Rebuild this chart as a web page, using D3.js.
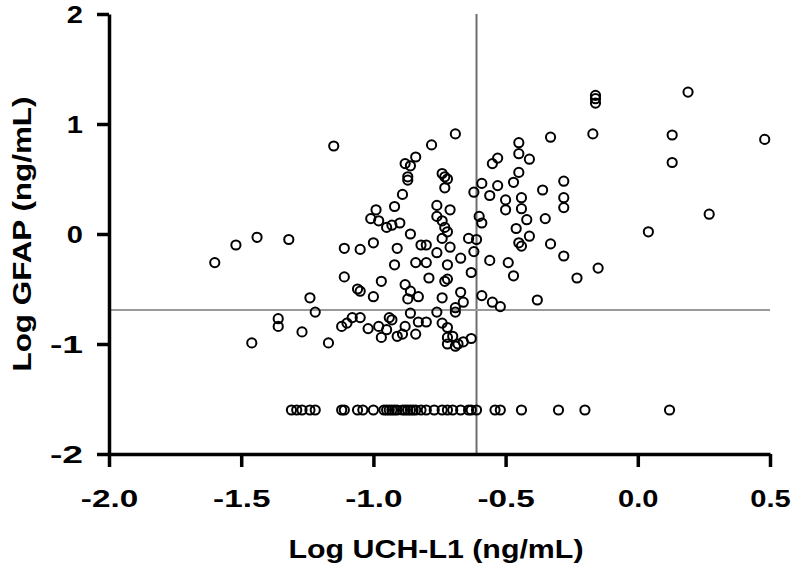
<!DOCTYPE html>
<html>
<head>
<meta charset="utf-8">
<script src="https://cdn.jsdelivr.net/npm/d3@7"></script>
<style>
  html, body { margin: 0; padding: 0; background: #fff; }
  svg { display: block; }
  text { font-family: "Liberation Sans", Arial, sans-serif; font-weight: bold; fill: #000; }
</style>
</head>
<body>
<svg id="chart" width="792" height="568"></svg>
<script>
// ---- data ----
const uchl1 = [
  -1.60,-1.52,-1.44,-1.32,-1.15,-0.78,-0.69,-0.84,-0.88,-0.86,
  -0.87,-0.87,-0.74,-0.73,-0.72,-0.73,-0.89,-0.92,-0.99,-1.01,
  -0.98,-0.95,-0.93,-0.90,-0.86,-0.76,-0.71,-0.76,-0.74,-0.73,
  -0.72,-0.74,-0.33,-0.45,-0.45,-0.41,-0.53,-0.55,-0.45,-0.47,
  -0.59,-0.53,-0.56,-0.62,-0.50,-0.50,-0.44,-0.44,-0.42,-0.36,
  -0.28,-0.28,-0.28,-0.35,-0.60,-0.59,-0.46,-0.41,-0.45,-0.44,
  -0.64,-0.61,-0.33,-0.28,-0.56,-0.49,-0.47,-0.23,-0.62,-0.63,
  -0.59,-0.55,-0.52,-0.38,-0.71,-0.67,-0.72,-0.73,-0.72,-0.67,
  -0.66,-0.74,-0.69,-0.69,-0.74,-0.72,-0.72,-0.72,-0.68,-0.66,
  -0.63, 0.04,-0.15, 0.19,-0.16,-0.16,-0.16,-0.17, 0.13, 0.13,
   0.48, 0.27,-1.11,-1.05,-1.00,-0.91,-0.82,-0.80,-0.76,-0.92,
  -0.84,-0.80,-1.11,-0.97,-1.06,-1.05,-1.00,-0.88,-0.86,-0.87,
  -0.83,-0.79,-1.24,-1.22,-1.36,-1.36,-1.27,-1.46,-1.17,-1.12,
  -1.10,-1.08,-1.05,-1.02,-0.98,-0.97,-0.94,-0.93,-0.95,-0.91,
  -0.89,-0.88,-0.86,-0.84,-0.83,-0.80,-0.76,-0.70,-0.69
];
const gfap = [
  -0.26,-0.10,-0.03,-0.05, 0.80, 0.81, 0.91, 0.70, 0.64, 0.62,
   0.52, 0.49, 0.55, 0.52, 0.50, 0.42, 0.36, 0.25, 0.22, 0.14,
   0.12, 0.06, 0.08, 0.10, 0.00, 0.26, 0.22, 0.16, 0.12, 0.06,
   0.02,-0.04, 0.88, 0.83, 0.73, 0.68, 0.69, 0.64, 0.56, 0.47,
   0.46, 0.44, 0.35, 0.38, 0.31, 0.22, 0.33, 0.23, 0.13, 0.40,
   0.48, 0.33, 0.24, 0.14, 0.16, 0.10, 0.05,-0.02,-0.08,-0.11,
  -0.04,-0.05,-0.09,-0.20,-0.24,-0.26,-0.38,-0.40,-0.16,-0.35,
  -0.56,-0.62,-0.66,-0.60,-0.12,-0.22,-0.28,-0.43,-0.41,-0.53,
  -0.62,-0.58,-0.67,-0.71,-0.81,-0.85,-0.94,-1.00,-1.00,-0.98,
  -0.95, 0.02,-0.31, 1.29, 1.26, 1.23, 1.19, 0.91, 0.90, 0.65,
   0.86, 0.18,-0.13,-0.14,-0.08,-0.13,-0.10,-0.10,-0.17,-0.28,
  -0.26,-0.26,-0.39,-0.43,-0.50,-0.52,-0.57,-0.46,-0.52,-0.59,
  -0.57,-0.40,-0.58,-0.71,-0.77,-0.84,-0.89,-0.99,-0.99,-0.84,
  -0.81,-0.76,-0.76,-0.86,-0.84,-0.94,-0.76,-0.78,-0.87,-0.93,
  -0.91,-0.84,-0.72,-0.91,-0.80,-0.80,-0.71,-0.93,-1.02
];
// samples with GFAP below the detection limit (plotted on one row)
const lowGfapUchl1 = [
  -1.31,-1.29,-1.27,-1.24,-1.22,-1.12,-1.11,-1.06,-1.04,-1.00,
  -0.96,-0.95,-0.94,-0.93,-0.92,-0.91,-0.89,-0.88,-0.87,-0.86,
  -0.85,-0.84,-0.82,-0.80,-0.77,-0.74,-0.72,-0.70,-0.67,-0.64,
  -0.63,-0.61,-0.54,-0.52,-0.44,-0.30,-0.20, 0.12
];
const lowGfapValue = -1.60;
const cutoffUchl1 = -0.61;
const cutoffGfap = -0.69;
const xTicks = [-2.0, -1.5, -1.0, -0.5, 0.0, 0.5];
const yTicks = [-2, -1, 0, 1, 2];
const xTitle = "Log UCH-L1 (ng/mL)";
const yTitle = "Log GFAP (ng/mL)";

// ---- drawing ----
const svg = d3.select("#chart");
const x = d3.scaleLinear().domain([-2, 0.5]).range([109, 770]);
const y = d3.scaleLinear().domain([-2, 2]).range([454, 14]);

function stretch(sel, k) {
  sel.each(function () {
    const w = this.getComputedTextLength();
    d3.select(this).attr("textLength", w * k).attr("lengthAdjust", "spacingAndGlyphs");
  });
}

// reference (cut-off) lines
svg.append("line")
  .attr("x1", x(cutoffUchl1)).attr("x2", x(cutoffUchl1))
  .attr("y1", y(2)).attr("y2", y(-2))
  .attr("stroke", "#6e6e6e").attr("stroke-width", 2);
svg.append("line")
  .attr("x1", x(-2)).attr("x2", x(0.5))
  .attr("y1", y(cutoffGfap)).attr("y2", y(cutoffGfap))
  .attr("stroke", "#9a9a9a").attr("stroke-width", 2);

// axes
const xAxis = svg.append("g")
  .attr("transform", `translate(0,${y(-2)})`)
  .call(d3.axisBottom(x).tickValues(xTicks).tickFormat(d3.format(".1f")).tickSize(13).tickSizeOuter(0));
const yAxis = svg.append("g")
  .attr("transform", `translate(${x(-2)},0)`)
  .call(d3.axisLeft(y).tickValues(yTicks).tickFormat(d3.format("d")).tickSize(12).tickSizeOuter(0));

[xAxis, yAxis].forEach(g => {
  g.select(".domain").attr("stroke", "#000").attr("stroke-width", 3.5);
  g.selectAll(".tick line").attr("stroke", "#000").attr("stroke-width", 3.5);
  g.selectAll(".tick text")
    .attr("font-family", '"Liberation Sans", Arial, sans-serif')
    .attr("font-weight", "bold")
    .attr("font-size", 24)
    .attr("fill", "#000");
});
xAxis.selectAll(".tick text").attr("y", 53).attr("dy", 0).call(stretch, 1.1);
yAxis.selectAll(".tick text").attr("x", -26).attr("dy", "0.35em").call(stretch, 1.1);
xAxis.selectAll(".tick text").text(d => d3.format(".1f")(d).replace("−", "-"));
yAxis.selectAll(".tick text").text(d => String(d).replace("−", "-"));
xAxis.selectAll(".tick text").call(stretch, 1.1);
yAxis.selectAll(".tick text").call(stretch, 1.1);

// points
const pts = uchl1.map((v, i) => ({ x: v, y: gfap[i] }))
  .concat(lowGfapUchl1.map(v => ({ x: v, y: lowGfapValue })));
svg.append("g").selectAll("circle").data(pts).join("circle")
  .attr("cx", d => x(d.x)).attr("cy", d => y(d.y)).attr("r", 4.6)
  .attr("fill", "none").attr("stroke", "#000").attr("stroke-width", 2);

// titles
svg.append("text")
  .attr("x", 436).attr("y", 558).attr("text-anchor", "middle")
  .attr("font-size", 25).text(xTitle)
  .attr("textLength", 295).attr("lengthAdjust", "spacingAndGlyphs");
svg.append("text")
  .attr("transform", `translate(31,${234}) rotate(-90)`)
  .attr("text-anchor", "middle")
  .attr("font-size", 25).text(yTitle)
  .attr("textLength", 275).attr("lengthAdjust", "spacingAndGlyphs");
</script>
</body>
</html>
